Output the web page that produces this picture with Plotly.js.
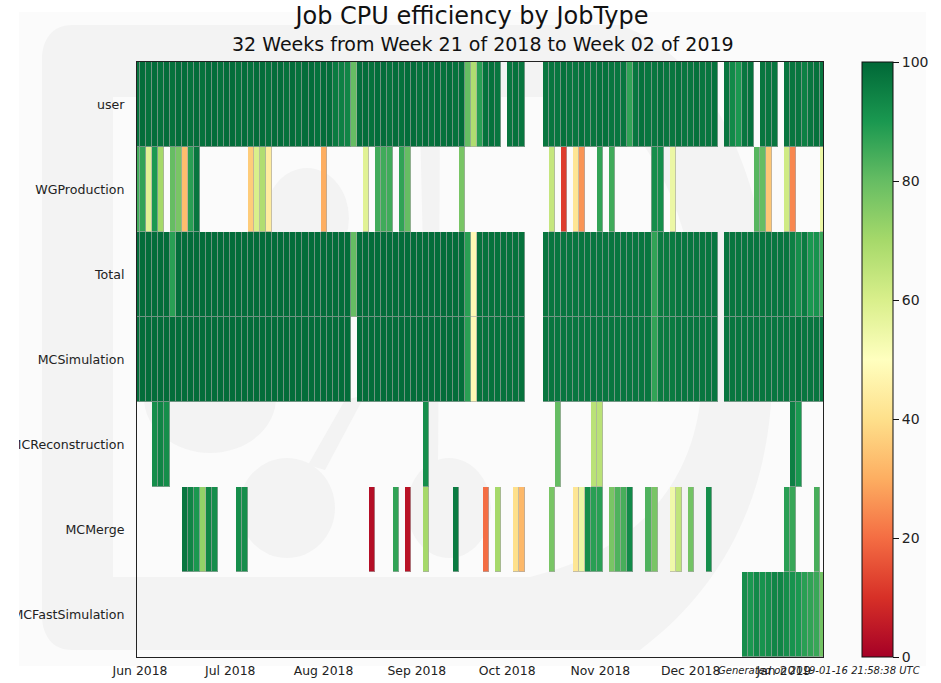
<!DOCTYPE html>
<html>
<head>
<meta charset="utf-8">
<script src="https://cdn.plot.ly/plotly-3.0.1.min.js"></script>
<style>html,body{margin:0;padding:0;background:#fff;}</style>
</head>
<body>
<div id="chart" style="width:941px;height:683px;"></div>
<script>
var _ = null;
var jobTypes = ["MCFastSimulation","MCMerge","MCReconstruction","MCSimulation","Total","WGProduction","user"];
var rangeStart = "2018-05-31";
var rangeEnd = "2019-01-14";
var binDays = 2;
var binCount = 115;
var tickDates = ["2018-06-01","2018-07-01","2018-08-01","2018-09-01","2018-10-01","2018-11-01","2018-12-01","2019-01-01"];
var tickLabels = ["Jun 2018","Jul 2018","Aug 2018","Sep 2018","Oct 2018","Nov 2018","Dec 2018","Jan 2019"];

var user = [98,99,98,99,98,99,98,99,99,98, 99,98,99,99,98,99,99,98,99,98, 99,99,98,99,99,98,99,98,99,99, 98,99,99,96,95,94,80,99,99,98,
  99,99,98,99,98,99,99,98,99,98, 99,98,99,98,99,80,68,88,98,98, 97,_,97,98,97,_,_,_,97,97, 97,98,97,97,98,97,97,98,98,97,
  97,97,87,97,98,97,97,98,97,97, 98,97,97,98,97,97,98,_,97,93, 90,97,98,_,97,97,97,_,97,97, 97,95,97,98,97];
var wgProduction = [85,87,58,90,70,_,80,77,33,88, 97,_,_,_,_,_,_,_,_,36, 60,68,44,_,_,_,_,_,_,_, _,30,_,_,_,_,_,_,58,_,
  85,85,85,_,87,80,_,_,_,_, _,_,_,_,77,_,_,_,_,_, _,_,_,_,_,_,_,_,_,64, _,12,_,42,26,_,_,87,_,85,
  _,_,_,_,_,_,92,92,_,55, _,_,_,_,_,_,_,_,_,_, _,_,_,82,80,35,_,_,62,24, _,_,_,_,55];
var total = [99,99,99,99,99,99,88,99,99,99, 99,99,99,99,99,99,99,99,99,99, 99,99,99,99,99,99,99,99,99,99, 99,99,99,99,99,99,80,99,99,99,
  99,99,99,99,99,99,99,99,99,99, 99,99,99,99,99,88,48,98,98,98, 98,98,98,98,98,_,_,_,97,97, 97,97,97,97,97,97,97,97,97,97,
  97,97,97,97,97,97,87,96,96,96, 97,97,97,97,97,97,97,_,97,97, 97,97,97,97,97,97,97,97,97,95, 92,96,90,91,86];
var mcSimulation = [99,99,99,99,99,99,99,99,99,99, 99,99,99,99,99,99,99,99,99,99, 99,99,99,99,99,99,99,99,99,99, 99,99,99,99,99,99,_,99,99,99,
  99,99,99,99,99,99,99,99,99,99, 99,99,99,99,99,88,48,98,98,98, 98,98,98,98,98,_,_,_,97,97, 97,97,97,97,97,97,97,97,97,97,
  97,97,97,97,97,97,87,96,96,96, 97,97,97,97,97,97,97,_,97,97, 97,97,97,97,97,97,97,97,97,97, 98,97,97,97,97];
var mcReconstruction = [_,_,_,92,94,92,_,_,_,_, _,_,_,_,_,_,_,_,_,_, _,_,_,_,_,_,_,_,_,_, _,_,_,_,_,_,_,_,_,_,
  _,_,_,_,_,_,_,_,92,_, _,_,_,_,_,_,_,_,_,_, _,_,_,_,_,_,_,_,_,_, 80,_,_,_,_,_,66,66,_,_,
  _,_,_,_,_,_,_,_,_,_, _,_,_,_,_,_,_,_,_,_, _,_,_,_,_,_,_,_,_,95, 90,_,_,_,_];
var mcMerge = [_,_,_,_,_,_,_,_,97,94, 90,73,94,92,_,_,_,92,92,_, _,_,_,_,_,_,_,_,_,_, _,_,_,_,_,_,_,_,_,3,
  _,_,_,87,_,4,_,_,70,_, _,_,_,96,_,_,_,_,20,_, 70,_,_,40,32,_,_,_,_,77, _,_,_,42,55,92,88,88,_,77,
  83,84,93,_,_,83,77,_,_,54, 65,_,78,_,_,92,_,_,_,_, _,_,_,_,_,_,_,_,88,86, _,_,_,84,_];
var mcFastSimulation = [_,_,_,_,_,_,_,_,_,_, _,_,_,_,_,_,_,_,_,_, _,_,_,_,_,_,_,_,_,_, _,_,_,_,_,_,_,_,_,_,
  _,_,_,_,_,_,_,_,_,_, _,_,_,_,_,_,_,_,_,_, _,_,_,_,_,_,_,_,_,_, _,_,_,_,_,_,_,_,_,_,
  _,_,_,_,_,_,_,_,_,_, _,_,_,_,_,_,_,_,_,_, _,92,90,93,91,92,94,94,92,91, 90,88,87,86,78];

var rows = [mcFastSimulation, mcMerge, mcReconstruction, mcSimulation, total, wgProduction, user];

var edges = [];
var t0 = Date.UTC(2018,4,31);
for (var i = 0; i <= binCount; i++) {
  edges.push(new Date(t0 + (binDays*i - 1)*86400000).toISOString().slice(0,10));
}

var RdYlGn = [[0,"#a50026"],[0.1,"#d73027"],[0.2,"#f46d43"],[0.3,"#fdae61"],[0.4,"#fee08b"],[0.5,"#ffffbf"],
  [0.6,"#d9ef8b"],[0.7,"#a6d96a"],[0.8,"#66bd63"],[0.9,"#1a9850"],[1,"#006837"]];
var RdYlGnEdge = [[0,"#a76d7a"],[0.1,"#b87e7b"],[0.2,"#c29384"],[0.3,"#c6aa8f"],[0.4,"#c6bb9e"],[0.5,"#c6c6b0"],
  [0.6,"#b9c19e"],[0.7,"#a7b992"],[0.8,"#91af90"],[0.9,"#76a289"],[1,"#6d9180"]];

var L=137,R=823,T=62,B=657;
function X(x){return ((x-L)/(R-L)).toFixed(4);}
function Y(y){return ((B-y)/(B-T)).toFixed(4);}
function P(x,y){return X(x)+","+Y(y);}
function wm(path,color){return {type:"path",xref:"paper",yref:"paper",layer:"below",path:path,fillcolor:color,line:{width:0}};}
function box(x0,y0,x1,y1,color,layer){return {type:"rect",xref:"paper",yref:"paper",layer:layer||"below",x0:X(x0),x1:X(x1),y0:Y(y0),y1:Y(y1),fillcolor:color,line:{width:0}};}
function ell(cx,cy,rx,ry,color){return {type:"circle",xref:"paper",yref:"paper",layer:"below",x0:X(cx-rx),x1:X(cx+rx),y0:Y(cy+ry),y1:Y(cy-ry),fillcolor:color,line:{width:0}};}
var G="#f3f3f3", W="#fbfbfb";
var shapes = [
  box(18,12,926,666,W),
  wm("M"+P(72,25)+" L"+P(620,25)+" C"+P(720,60)+" "+P(780,200)+" "+P(772,380)+" C"+P(770,500)+" "+P(720,590)+" "+P(640,650)+" L"+P(72,650)+" C"+P(52,650)+" "+P(42,635)+" "+P(42,615)+" L"+P(42,60)+" C"+P(42,40)+" "+P(52,25)+" "+P(72,25)+" Z",G),
  wm("M"+P(113,97)+" L"+P(590,97)+" C"+P(660,130)+" "+P(705,250)+" "+P(702,380)+" C"+P(698,480)+" "+P(640,550)+" "+P(530,577)+" L"+P(113,577)+" Z",W),
  ell(210,398,66,55,G),
  ell(307,218,42,50,G),
  ell(287,508,48,50,G),
  ell(449,508,42,50,G),
  wm("M"+P(345,400)+" L"+P(365,395)+" L"+P(325,470)+" L"+P(308,465)+" Z",G),
  wm("M"+P(420,120)+" L"+P(440,120)+" L"+P(438,470)+" L"+P(428,470)+" Z",G),
  box(0,0,19,683,"#ffffff","above")
];

var data = [
  {type:"heatmap",x:edges,y:jobTypes,z:rows,zmin:0,zmax:100,showscale:false,hoverinfo:"skip",colorscale:RdYlGnEdge},
  {type:"heatmap",x:edges,y:jobTypes,z:rows,zmin:0,zmax:100,xgap:1,ygap:1,colorscale:RdYlGn,
   colorbar:{thickness:31,thicknessmode:"pixels",len:1,lenmode:"fraction",x:(862-L)/(R-L),xanchor:"left",xpad:0,
     y:0,yanchor:"bottom",ypad:0,outlinecolor:"#111",outlinewidth:1,tickmode:"array",tickvals:[0,20,40,60,80,100],
     ticks:"outside",ticklen:6,tickcolor:"#111",tickfont:{family:"DejaVu Sans",size:14,color:"#222"}}}
];

var layout = {
  width:941,height:683,
  margin:{l:L,r:941-R,t:T,b:683-B,pad:0,autoexpand:false},
  paper_bgcolor:"#ffffff",plot_bgcolor:"rgba(0,0,0,0)",
  font:{family:"DejaVu Sans",color:"#222"},
  title:{text:"Job CPU efficiency by JobType",font:{family:"DejaVu Sans",size:24,color:"#111"},x:(472-L)/(R-L),xanchor:"center",xref:"paper",y:1-16/683,yanchor:"middle"},
  xaxis:{type:"date",range:[rangeStart,rangeEnd],tickmode:"array",tickvals:tickDates,ticktext:tickLabels,ticks:"",ticklabelstandoff:2,
    tickfont:{family:"DejaVu Sans",size:12.4,color:"#222"},showgrid:false,zeroline:false,showline:true,mirror:true,linecolor:"#222",linewidth:1,automargin:false},
  yaxis:{type:"category",categoryorder:"array",categoryarray:jobTypes,range:[-0.5,6.5],ticks:"",
    tickfont:{family:"DejaVu Sans",size:12.6,color:"#222"},ticklabelstandoff:9,showgrid:false,zeroline:false,showline:true,mirror:true,linecolor:"#222",linewidth:1,automargin:false},
  shapes:shapes,
  annotations:[
    {xref:"paper",yref:"paper",x:(483-L)/(R-L),y:(B-44)/(B-T),xanchor:"center",yanchor:"middle",showarrow:false,
     text:"32 Weeks from Week 21 of 2018 to Week 02 of 2019",font:{family:"DejaVu Sans",size:19,color:"#111"}},
    {xref:"paper",yref:"paper",x:(922-L)/(R-L),y:(B-670)/(B-T),xanchor:"right",yanchor:"middle",showarrow:false,
     text:"<i>Generated on 2019-01-16 21:58:38 UTC</i>",font:{family:"DejaVu Sans",size:10,color:"#222"}}
  ]
};
Plotly.newPlot("chart",data,layout,{displayModeBar:false,responsive:false});
</script>
</body>
</html>
